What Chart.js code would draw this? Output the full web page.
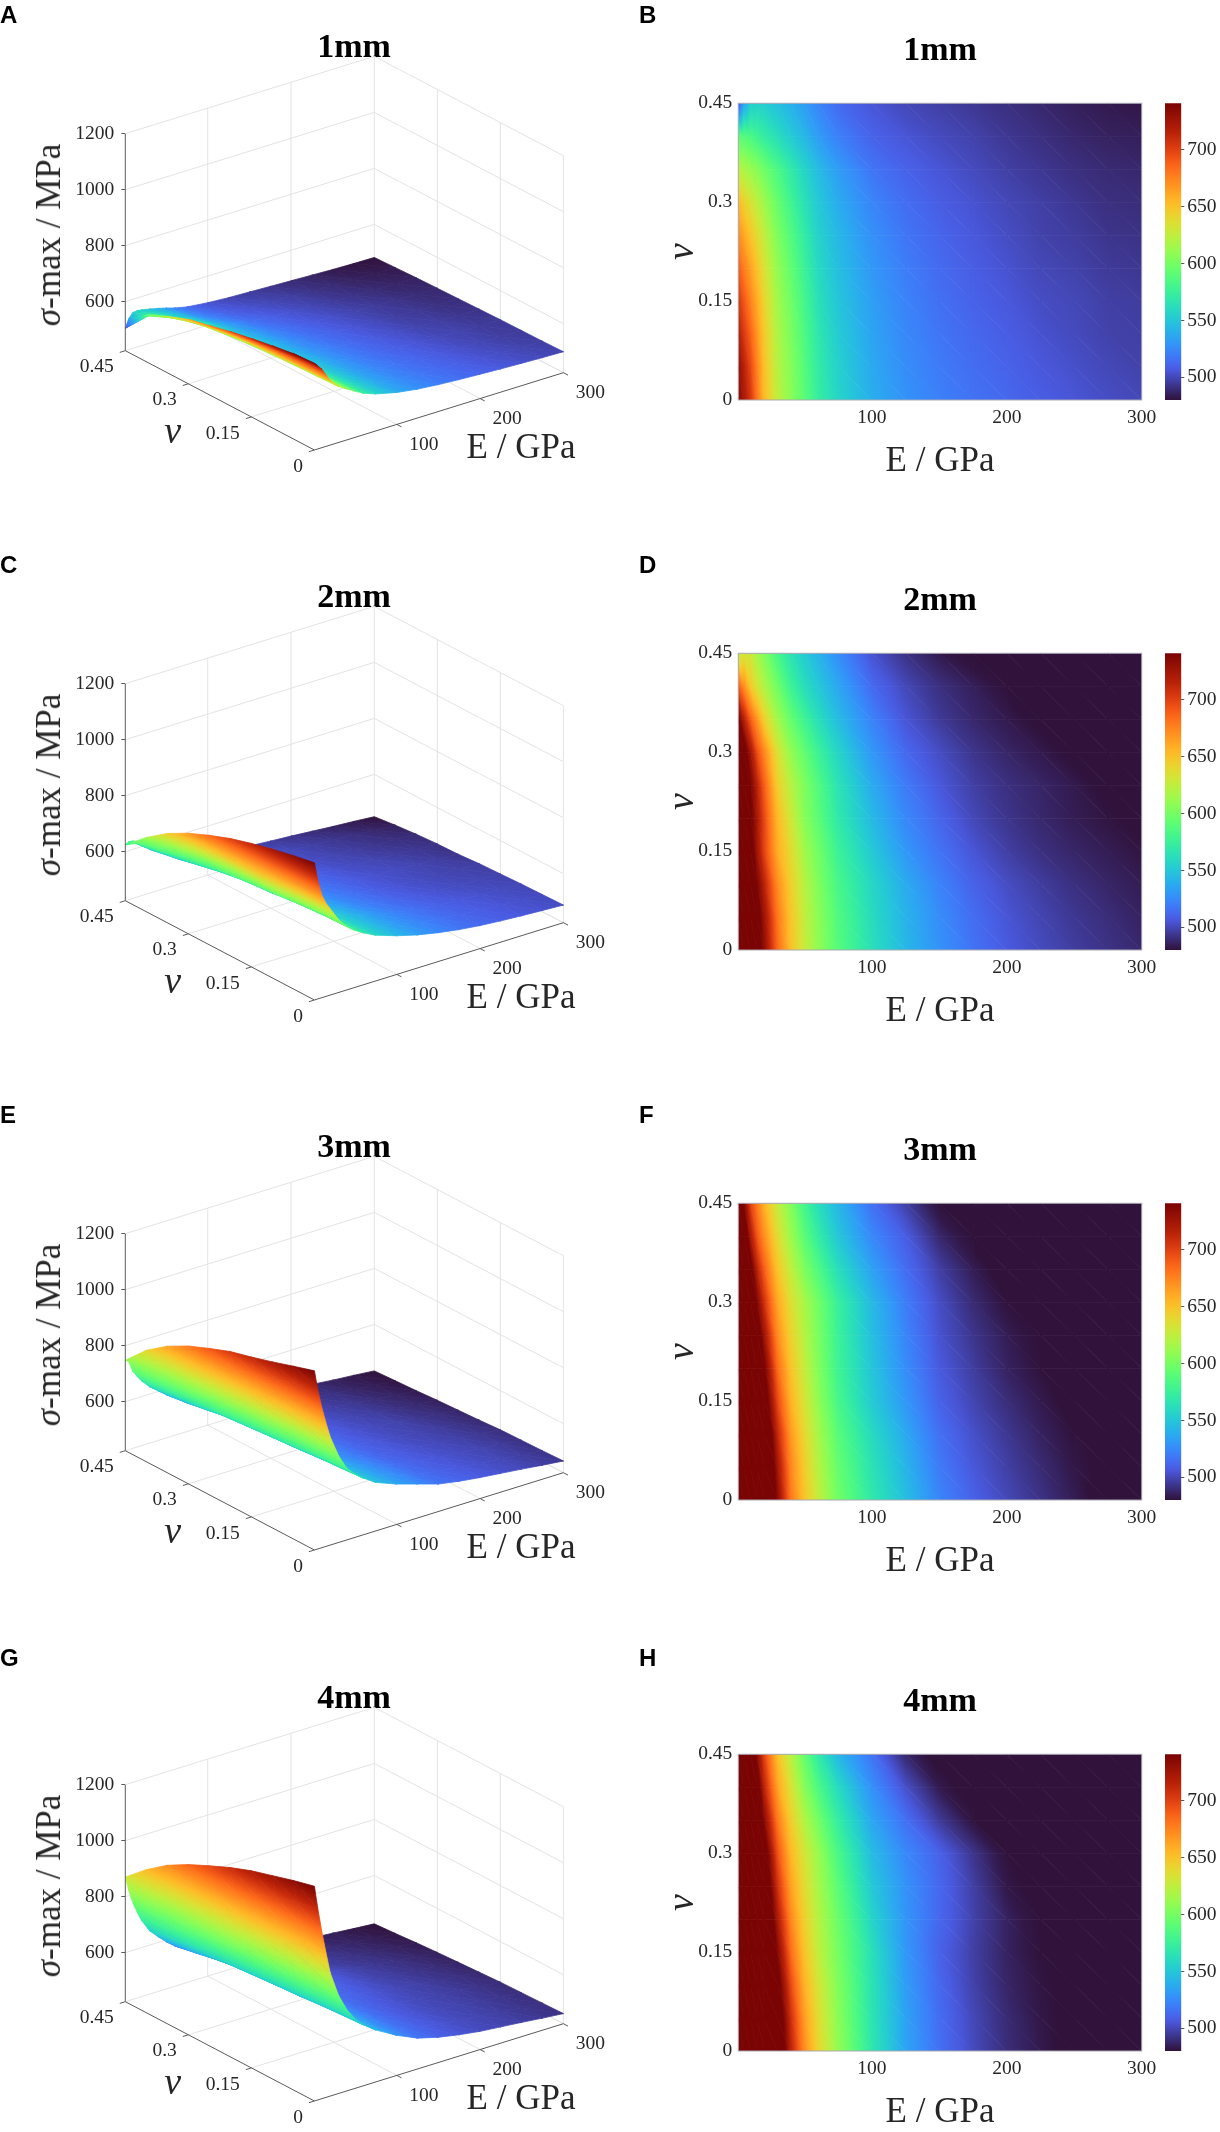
<!DOCTYPE html>
<html>
<head>
<meta charset="utf-8">
<title>Maximum stress surfaces</title>
<script src="https://cdn.jsdelivr.net/npm/chart.js@4/dist/chart.umd.js"></script>
<style>
  html, body { margin: 0; padding: 0; background: #fff; }
  #page { position: relative; width: 1220px; height: 2132px; overflow: hidden; background: #fff; }
  canvas { position: absolute; }
  .letter { position: absolute; font: bold 24px "Liberation Sans", sans-serif; color: #000; transform: translateY(-50%); }
  .label { position: absolute; font: 35px "Liberation Serif", serif; color: #262626; white-space: nowrap; transform: translate(-50%, -50%); }
  .label.turned { transform: translate(-50%, -50%) rotate(-90deg); }
  .label.nu { font-size: 38px; }
</style>
</head>
<body>
<div id="page"></div>
<script>
// values, rows go with nuValues, columns with eValues
const eValues = [1, 5, 10, 15, 20, 30, 40, 50, 60, 75, 100, 125, 150, 175, 200, 225, 250, 275, 300];
const nuValues = [0, 0.05, 0.1, 0.15, 0.2, 0.25, 0.3, 0.35, 0.4, 0.45];

const sigma1mm = [
  [735, 722, 705, 680, 655, 625, 607, 590, 573, 557, 539, 528, 521, 516, 512, 508, 505, 502, 500],
  [730, 716, 698, 675, 652, 622, 605, 588, 571, 555, 537, 526, 519, 514, 510, 506, 503, 500, 498],
  [718, 704, 688, 668, 648, 619, 602, 585, 568, 552, 535, 524, 517, 512, 508, 504, 501, 498, 497],
  [705, 692, 676, 660, 642, 615, 598, 581, 564, 549, 533, 522, 515, 510, 506, 502, 500, 497, 496],
  [690, 678, 664, 650, 635, 610, 593, 576, 560, 546, 530, 520, 513, 508, 504, 500, 498, 495, 494],
  [672, 662, 650, 638, 626, 603, 587, 571, 556, 543, 527, 517, 511, 506, 502, 498, 496, 493, 492],
  [655, 644, 634, 624, 614, 595, 579, 564, 551, 538, 523, 514, 508, 504, 500, 497, 494, 491, 490],
  [625, 618, 612, 606, 598, 584, 570, 557, 545, 532, 517, 510, 505, 501, 497, 494, 491, 489, 488],
  [590, 588, 584, 578, 572, 562, 552, 543, 532, 521, 510, 505, 501, 498, 494, 491, 488, 486, 485],
  [505, 535, 553, 555, 553, 547, 540, 532, 523, 513, 505, 500, 497, 494, 491, 488, 485, 483, 482]
];
const sigma2mm = [
  [915, 850, 792, 757, 733, 685, 651, 628, 610, 588, 563, 543, 528, 516, 507, 501, 496, 492, 488],
  [901, 842, 785, 752, 728, 680, 649, 626, 608, 586, 561, 541, 526, 514, 505, 499, 494, 490, 486],
  [885, 825, 770, 740, 716, 672, 644, 622, 604, 582, 558, 538, 522, 510, 502, 496, 491, 487, 484],
  [866, 810, 755, 725, 700, 660, 638, 615, 599, 576, 551, 530, 516, 505, 497, 491, 487, 484, 481],
  [844, 795, 748, 722, 698, 655, 630, 606, 591, 569, 544, 524, 511, 500, 493, 488, 484, 481, 478],
  [816, 775, 742, 715, 690, 645, 622, 603, 587, 565, 538, 519, 506, 497, 491, 487, 483, 478, 472],
  [784, 755, 725, 695, 675, 635, 610, 593, 577, 557, 530, 512, 502, 493, 487, 483, 478, 474, 470],
  [744, 718, 690, 668, 645, 615, 594, 578, 563, 545, 522, 505, 495, 488, 483, 478, 473, 469, 465],
  [690, 672, 648, 632, 620, 598, 577, 562, 551, 536, 513, 500, 491, 485, 479, 474, 469, 463, 458],
  [625, 632, 630, 615, 604, 582, 565, 552, 541, 526, 504, 492, 483, 477, 472, 466, 460, 455, 449]
];
const sigma3mm = [
  [1065, 995, 925, 865, 811, 735, 680, 650, 627, 598, 569, 546, 523, 510, 500, 492, 484, 475, 467],
  [1042, 975, 905, 848, 797, 725, 674, 646, 622, 594, 565, 542, 519, 506, 497, 489, 482, 473, 464],
  [1018, 952, 885, 830, 782, 713, 667, 640, 617, 589, 560, 537, 515, 503, 494, 486, 480, 471, 462],
  [996, 930, 862, 808, 760, 698, 657, 633, 610, 582, 552, 530, 510, 499, 490, 483, 476, 468, 460],
  [976, 908, 840, 785, 745, 685, 650, 627, 605, 578, 549, 526, 507, 496, 486, 480, 473, 464, 455],
  [948, 880, 812, 762, 727, 673, 643, 621, 602, 576, 546, 523, 504, 493, 484, 478, 468, 460, 451],
  [917, 848, 782, 738, 708, 662, 636, 617, 599, 574, 544, 520, 502, 489, 480, 473, 463, 455, 447],
  [877, 812, 752, 715, 690, 650, 625, 603, 586, 562, 534, 514, 497, 484, 475, 467, 458, 450, 442],
  [823, 770, 722, 692, 672, 638, 613, 590, 572, 550, 524, 508, 488, 477, 469, 462, 452, 445, 438],
  [748, 740, 700, 678, 658, 627, 604, 580, 562, 542, 515, 497, 478, 469, 461, 455, 447, 441, 434]
];
const sigma4mm = [
  [1192, 1110, 1020, 940, 865, 775, 715, 672, 642, 610, 568, 535, 515, 501, 490, 483, 476, 468, 461],
  [1173, 1092, 1005, 925, 852, 767, 708, 666, 638, 607, 566, 534, 514, 500, 489, 482, 474, 466, 459],
  [1151, 1070, 982, 903, 832, 753, 697, 658, 633, 604, 565, 532, 512, 498, 487, 481, 473, 465, 457],
  [1129, 1040, 950, 875, 808, 737, 684, 650, 626, 600, 563, 530, 510, 497, 486, 479, 472, 463, 455],
  [1101, 1012, 925, 850, 790, 722, 674, 644, 622, 596, 557, 529, 512, 498, 486, 478, 468, 460, 451],
  [1068, 982, 897, 825, 773, 708, 664, 638, 617, 590, 551, 528, 512, 497, 482, 473, 464, 455, 447],
  [1033, 950, 870, 803, 758, 695, 655, 632, 612, 583, 545, 524, 510, 493, 478, 468, 460, 451, 443],
  [991, 910, 838, 780, 736, 680, 645, 620, 600, 572, 536, 515, 495, 480, 470, 462, 453, 445, 438],
  [936, 862, 802, 757, 715, 664, 634, 606, 585, 560, 527, 503, 483, 472, 464, 454, 447, 439, 432],
  [870, 820, 770, 733, 700, 652, 622, 594, 570, 543, 516, 488, 474, 461, 453, 446, 440, 433, 427]
];

const sigmaGrids = [sigma1mm, sigma2mm, sigma3mm, sigma4mm];
const thicknessTitles = ['1mm', '2mm', '3mm', '4mm'];
const leftLetters = ['A', 'C', 'E', 'G'];
const rightLetters = ['B', 'D', 'F', 'H'];

const eTicks = [100, 200, 300];
const nuTicks = [0, 0.15, 0.3, 0.45];
const nuTickLabels = ['0', '0.15', '0.3', '0.45'];
const zTicks = [600, 800, 1000, 1200];
const colorbarTicks = [500, 550, 600, 650, 700];

const colorbarRange = [480, 741];
const surfaceRanges = [[482, 735], [449, 915], [434, 1065], [427, 1192]];

// page layout
const rowTops = [0, 550, 1100, 1651];
const letterCentres = [15, 565, 1115, 1658];
const SERIF = '"Liberation Serif", serif';
const TICK_FONT = { family: SERIF, size: 19.5 };
const TEXT_COLOR = '#262626';
const GRID_COLOR = '#e3e3e3';
const AXIS_COLOR = '#5a5a5a';

// 3d box as seen on the page
const BOX = { fx: 314.4, ex: 249, ey: 77.3, nx: -189.1, ny: 99.3, pxPerMpa: 0.28, floor: 425, top: 1200 };
const E_MIN = 1, E_MAX = 300, NU_MAX = 0.45;

const project = (E, nu, z) => {
  const e = (E - E_MIN) / (E_MAX - E_MIN);
  const n = nu / NU_MAX;
  return {
    x: BOX.fx + BOX.ex * e + BOX.nx * n,
    y: z + (BOX.ey * e + BOX.ny * (n - 1)) / BOX.pxPerMpa
  };
};

const turboFit = (t) => [
  34.61 + t * (1172.33 - t * (10793.56 - t * (33300.12 - t * (38394.49 - t * 14825.05)))),
  23.31 + t * (557.33 + t * (1225.33 - t * (3574.96 - t * (1073.77 + t * 707.56)))),
  27.2 + t * (3211.1 - t * (15327.97 - t * (27814 - t * (22569.18 - t * 6838.66))))
];
const TURBO_LOW = [48, 18, 59];
const TURBO_HIGH = [122, 4, 3];

// the fit is poor at both ends of the map, so those are pulled to the real end colours
const turbo = (t) => {
  t = Math.max(0, Math.min(1, t));
  let rgb;
  if (t < 0.1) {
    const end = turboFit(0.1);
    rgb = TURBO_LOW.map((c, i) => c + (end[i] - c) * t / 0.1);
  } else if (t > 0.9) {
    const end = turboFit(0.9);
    rgb = TURBO_HIGH.map((c, i) => c + (end[i] - c) * (1 - t) / 0.1);
  } else {
    rgb = turboFit(t);
  }
  const [r, g, b] = rgb.map((c) => Math.max(0, Math.min(255, Math.round(c))));
  return `rgb(${r},${g},${b})`;
};

// linear gradient that carries the three corner values of a triangle exactly
const triangleFill = (chart, tri) => {
  if (tri.fillStyle) return tri.fillStyle;
  const { x: xs, y: ys } = chart.scales;
  if (!chart.chartArea || !xs || !ys) return 'transparent';
  const [lo, hi] = tri.range;
  const toT = (v) => (v - lo) / (hi - lo);
  const p = tri.points.map((pt) => ({ x: xs.getPixelForValue(pt.x), y: ys.getPixelForValue(pt.y) }));
  if (!p.every((q) => Number.isFinite(q.x) && Number.isFinite(q.y))) return 'transparent';
  const v = tri.values;
  const ax = p[1].x - p[0].x, ay = p[1].y - p[0].y;
  const bx = p[2].x - p[0].x, by = p[2].y - p[0].y;
  const det = ax * by - ay * bx;
  const vMin = Math.min(...v), vMax = Math.max(...v);
  const flat = turbo(toT((v[0] + v[1] + v[2]) / 3));
  if (Math.abs(det) < 0.01 || vMax - vMin < 0.01) return (tri.fillStyle = flat);
  const da = v[1] - v[0], db = v[2] - v[0];
  const gx = (da * by - db * ay) / det;
  const gy = (db * ax - da * bx) / det;
  const g2 = gx * gx + gy * gy;
  const start = p[v.indexOf(vMin)];
  const grad = chart.ctx.createLinearGradient(
    start.x, start.y,
    start.x + gx * (vMax - vMin) / g2, start.y + gy * (vMax - vMin) / g2
  );
  const steps = Math.max(2, Math.min(24, Math.ceil(toT(vMax) * 40 - toT(vMin) * 40)));
  for (let k = 0; k <= steps; k++) {
    grad.addColorStop(k / steps, turbo(toT(vMin + (vMax - vMin) * k / steps)));
  }
  return (tri.fillStyle = grad);
};

const triangleDataset = (tri) => ({
  data: [...tri.points, tri.points[0]],
  fill: 'shape',
  pointRadius: 0,
  borderWidth: 0.8,
  backgroundColor: (ctx) => triangleFill(ctx.chart, tri),
  borderColor: (ctx) => triangleFill(ctx.chart, tri)
});

// far cells first, cut in two triangles each. toPoint decides 3d or flat
const meshDatasets = (grid, range, toPoint) => {
  const out = [];
  for (let i = eValues.length - 2; i >= 0; i--) {
    for (let j = nuValues.length - 2; j >= 0; j--) {
      const corner = (a, b) => ({ point: toPoint(eValues[a], nuValues[b], grid[b][a]), value: grid[b][a] });
      const c00 = corner(i, j), c10 = corner(i + 1, j), c01 = corner(i, j + 1), c11 = corner(i + 1, j + 1);
      [[c11, c10, c01], [c10, c00, c01]].forEach((t) => {
        out.push(triangleDataset({ points: t.map((c) => c.point), values: t.map((c) => c.value), range }));
      });
    }
  }
  return out;
};

const lineDataset = (from, to, color, width) => ({
  data: [project(...from), project(...to)],
  borderColor: color,
  borderWidth: width,
  pointRadius: 0,
  fill: false,
  clip: false
});

const boxGrid = () => {
  const { floor, top } = BOX;
  const out = [];
  [floor, ...zTicks].forEach((z) => {
    out.push(lineDataset([E_MIN, NU_MAX, z], [E_MAX, NU_MAX, z], GRID_COLOR, 1));
    out.push(lineDataset([E_MAX, NU_MAX, z], [E_MAX, 0, z], GRID_COLOR, 1));
  });
  [100, 200, 300].forEach((E) => {
    out.push(lineDataset([E, NU_MAX, floor], [E, NU_MAX, top], GRID_COLOR, 1));
    out.push(lineDataset([E, 0, floor], [E, NU_MAX, floor], GRID_COLOR, 1));
  });
  [0, 0.15, 0.3].forEach((nu) => {
    out.push(lineDataset([E_MAX, nu, floor], [E_MAX, nu, top], GRID_COLOR, 1));
  });
  [0.15, 0.3].forEach((nu) => {
    out.push(lineDataset([E_MIN, nu, floor], [E_MAX, nu, floor], GRID_COLOR, 1));
  });
  return out;
};

const boxAxes = () => {
  const { floor, top } = BOX;
  const out = [
    lineDataset([E_MIN, NU_MAX, floor], [E_MIN, NU_MAX, top], AXIS_COLOR, 1),
    lineDataset([E_MIN, 0, floor], [E_MAX, 0, floor], AXIS_COLOR, 1),
    lineDataset([E_MIN, NU_MAX, floor], [E_MIN, 0, floor], AXIS_COLOR, 1)
  ];
  eTicks.forEach((E) => out.push(lineDataset([E, 0, floor], [E, -0.011, floor], AXIS_COLOR, 1)));
  nuTicks.forEach((nu) => out.push(lineDataset([E_MIN, nu, floor], [E_MIN - 6.6, nu, floor], AXIS_COLOR, 1)));
  return out;
};

// tick labels of the two floor axes
const floorLabels = {
  id: 'floorLabels',
  afterDraw(chart) {
    const { ctx, scales: { x, y } } = chart;
    const spot = (E, nu) => {
      const p = project(E, nu, BOX.floor);
      return [x.getPixelForValue(p.x), y.getPixelForValue(p.y)];
    };
    ctx.save();
    ctx.font = `${TICK_FONT.size}px ${TICK_FONT.family}`;
    ctx.fillStyle = TEXT_COLOR;
    ctx.textBaseline = 'middle';
    ctx.textAlign = 'center';
    eTicks.forEach((E) => {
      const [px, py] = spot(E, 0);
      ctx.fillText(String(E), px + 27, py + 20);
    });
    ctx.textAlign = 'right';
    nuTicks.forEach((nu, i) => {
      const [px, py] = spot(E_MIN, nu);
      ctx.fillText(nuTickLabels[i], px - 11.5, py + 16.5);
    });
    ctx.restore();
  }
};

const plotFrame = {
  id: 'plotFrame',
  afterDatasetsDraw(chart) {
    const { ctx, chartArea: a } = chart;
    ctx.save();
    ctx.strokeStyle = '#a9a9b4';
    ctx.lineWidth = 1;
    ctx.strokeRect(a.left, a.top, a.right - a.left, a.bottom - a.top);
    ctx.restore();
  }
};

const page = document.getElementById('page');

const addCanvas = (left, top, width, height) => {
  const canvas = document.createElement('canvas');
  canvas.width = width;
  canvas.height = height;
  canvas.style.left = left + 'px';
  canvas.style.top = top + 'px';
  canvas.style.width = width + 'px';
  canvas.style.height = height + 'px';
  page.append(canvas);
  return canvas;
};

const addHtml = (className, html, left, top) => {
  const el = document.createElement('div');
  el.className = className;
  el.innerHTML = html;
  el.style.left = left + 'px';
  el.style.top = top + 'px';
  page.append(el);
};

const titleOptions = (text, top, bottom) => ({
  display: true,
  text,
  fullSize: false,
  color: '#000',
  font: { family: SERIF, size: 34, weight: 'bold', lineHeight: 1.2 },
  padding: { top, bottom }
});

const setTicks = (values) => (scale) => {
  scale.ticks = values.map((value) => ({ value }));
};

const baseOptions = {
  responsive: false,
  animation: false,
  events: [],
  devicePixelRatio: 1
};

const renderSurface = (index) => {
  const canvas = addCanvas(0, rowTops[index], 610, 500);
  const surface = meshDatasets(sigmaGrids[index], surfaceRanges[index], project);
  const drawOrder = [...boxGrid(), ...surface, ...boxAxes()];

  new Chart(canvas, {
    type: 'line',
    data: { datasets: drawOrder.reverse() },
    plugins: [floorLabels],
    options: {
      ...baseOptions,
      layout: { autoPadding: false, padding: { left: 0, right: 27.3, top: 0, bottom: 20 } },
      plugins: {
        legend: { display: false },
        tooltip: { enabled: false },
        title: titleOptions(thicknessTitles[index], 28, 0)
      },
      scales: {
        x: { type: 'linear', display: false, min: 125.3, max: 582.7 },
        y: {
          type: 'linear',
          min: -36.8,
          max: 1431.8,
          afterFit: (s) => { s.width = 125.3; },
          afterBuildTicks: setTicks(zTicks),
          border: { display: false },
          grid: { drawOnChartArea: false, drawTicks: true, tickLength: 4, tickColor: AXIS_COLOR },
          ticks: { font: TICK_FONT, color: TEXT_COLOR, padding: 7, callback: (v) => String(v) }
        }
      }
    }
  });

  const top = rowTops[index];
  addHtml('label turned', '<i>σ</i>-max / MPa', 48.7, top + 235);
  addHtml('label', 'E / GPa', 521, top + 446.7);
  addHtml('label nu', '<i>ν</i>', 172.7, top + 430);
};

const renderHeatmap = (index) => {
  const canvas = addCanvas(610, rowTops[index], 610, 500);
  const flat = (E, nu) => ({ x: E, y: nu });
  const cells = meshDatasets(sigmaGrids[index], colorbarRange, flat).map((d) => ({ ...d, clip: 0 }));

  new Chart(canvas, {
    type: 'line',
    data: { datasets: cells.reverse() },
    plugins: [plotFrame],
    options: {
      ...baseOptions,
      layout: { autoPadding: false, padding: { left: 0, right: 78.3, top: 0, bottom: 0 } },
      plugins: {
        legend: { display: false },
        tooltip: { enabled: false },
        title: titleOptions(thicknessTitles[index], 30.6, 31.9)
      },
      scales: {
        x: {
          type: 'linear',
          min: E_MIN,
          max: E_MAX,
          afterFit: (s) => { s.height = 100; },
          afterBuildTicks: setTicks(eTicks),
          border: { display: false },
          grid: { display: false, drawTicks: false },
          ticks: { font: TICK_FONT, color: TEXT_COLOR, padding: 6, maxRotation: 0, autoSkip: false, callback: (v) => String(v) },
          title: {
            display: true,
            text: 'E / GPa',
            color: TEXT_COLOR,
            font: { family: SERIF, size: 35, lineHeight: 1.2 },
            padding: { top: 0, bottom: 17 }
          }
        },
        y: {
          type: 'linear',
          min: 0,
          max: NU_MAX,
          afterFit: (s) => { s.width = 128.3; },
          afterBuildTicks: setTicks(nuTicks),
          border: { display: false },
          grid: { display: false, drawTicks: false },
          ticks: {
            font: TICK_FONT,
            color: TEXT_COLOR,
            padding: 6,
            autoSkip: false,
            callback: (v) => nuTickLabels[nuTicks.indexOf(v)]
          },
          title: {
            display: true,
            text: 'ν',
            color: TEXT_COLOR,
            font: { family: SERIF, size: 38, style: 'italic', lineHeight: 1.2 },
            padding: { top: 50, bottom: 0 }
          }
        }
      }
    }
  });
};

const renderColorbar = (index) => {
  const canvas = addCanvas(1120, rowTops[index], 100, 500);
  const [lo, hi] = colorbarRange;

  new Chart(canvas, {
    type: 'bar',
    data: {
      labels: [''],
      datasets: [{
        data: [[lo, hi]],
        barPercentage: 1,
        categoryPercentage: 1,
        borderWidth: 0,
        backgroundColor: (ctx) => {
          const { y } = ctx.chart.scales;
          if (!ctx.chart.chartArea || !y) return 'transparent';
          const y0 = y.getPixelForValue(lo), y1 = y.getPixelForValue(hi);
          if (!Number.isFinite(y0) || !Number.isFinite(y1)) return 'transparent';
          const grad = ctx.chart.ctx.createLinearGradient(0, y0, 0, y1);
          for (let k = 0; k <= 40; k++) grad.addColorStop(k / 40, turbo(k / 40));
          return grad;
        }
      }]
    },
    options: {
      ...baseOptions,
      layout: { autoPadding: false, padding: { left: 45, right: 0, top: 103.3, bottom: 100 } },
      plugins: { legend: { display: false }, tooltip: { enabled: false } },
      scales: {
        x: { display: false },
        y: {
          type: 'linear',
          position: 'right',
          min: lo,
          max: hi,
          afterFit: (s) => { s.width = 38.7; },
          afterBuildTicks: setTicks(colorbarTicks),
          border: { display: false },
          grid: { drawOnChartArea: false, drawTicks: true, tickLength: 3, tickColor: AXIS_COLOR },
          ticks: { font: TICK_FONT, color: TEXT_COLOR, padding: 3, autoSkip: false, callback: (v) => String(v) }
        }
      }
    }
  });
};

thicknessTitles.forEach((title, i) => {
  renderSurface(i);
  renderHeatmap(i);
  renderColorbar(i);
  addHtml('letter', leftLetters[i], 0, letterCentres[i]);
  addHtml('letter', rightLetters[i], 639, letterCentres[i]);
});
</script>
</body>
</html>
